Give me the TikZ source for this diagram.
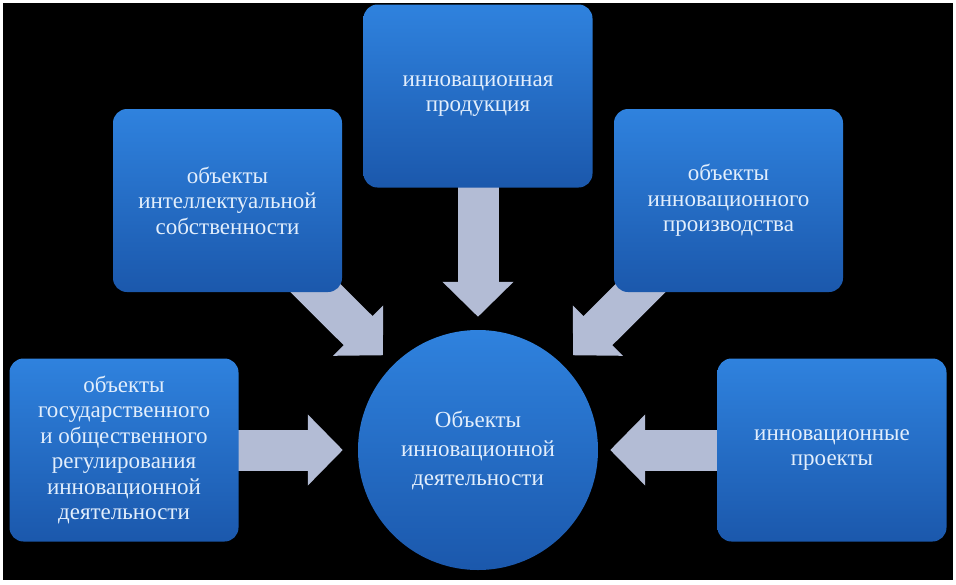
\documentclass[tikz,border=0pt]{standalone}
\usepackage{fontspec}
\setmainfont{Liberation Serif}
\usetikzlibrary{arrows.meta}
\definecolor{boxtop}{HTML}{2F82DE}
\definecolor{boxbot}{HTML}{1B58AC}
\definecolor{txt}{HTML}{E2EEFC}
\definecolor{arr}{HTML}{B3BCD5}
\pgfdeclarelayer{bg}
\pgfsetlayers{bg,main}
\begin{document}
\begin{tikzpicture}[x=1pt,y=-1pt,
  box/.style={rectangle, rounded corners=14pt, minimum width=229pt, minimum height=183pt,
    top color=boxtop, bottom color=boxbot, text=txt, align=center, inner sep=0pt,
    font=\fontsize{23}{25.5}\selectfont},
  hub/.style={circle, minimum size=240pt, inner sep=0pt,
    top color=boxtop, bottom color=boxbot, text=txt, align=center,
    font=\fontsize{23}{29}\selectfont},
  blockarrow/.style={draw=arr, line width=41pt, -{Triangle[width=69pt,length=35pt]}}
]
\useasboundingbox (0,0) rectangle (956,584);
\node[box] (top) at (478,96) {инновационная\\продукция};
\node[box] (lu) at (227.5,200.5) {объекты\\интеллектуальной\\собственности};
\node[box] (ru) at (728.5,200.5) {объекты\\инновационного\\производства};
\node[box] (bl) at (124,450) {объекты\\государственного\\и общественного\\регулирования\\инновационной\\деятельности};
\node[box] (br) at (832,450) {инновационные\\проекты};
\node[hub] (c) at (478,450) {Объекты\\инновационной\\деятельности};
\begin{pgfonlayer}{bg}
  \fill[white] (0,0) rectangle (956,584);
  \fill[black] (3,3) rectangle (953,580);
  \draw[blockarrow, shorten >=13pt] (top.center) -- (c);
  \draw[blockarrow, shorten >=14pt] (lu.center) -- (c);
  \draw[blockarrow, shorten >=14pt] (ru.center) -- (c);
  \draw[blockarrow, shorten >=15pt] (bl.center) -- (c);
  \draw[blockarrow, shorten >=12pt] (br.center) -- (c);
\end{pgfonlayer}
\end{tikzpicture}
\end{document}
